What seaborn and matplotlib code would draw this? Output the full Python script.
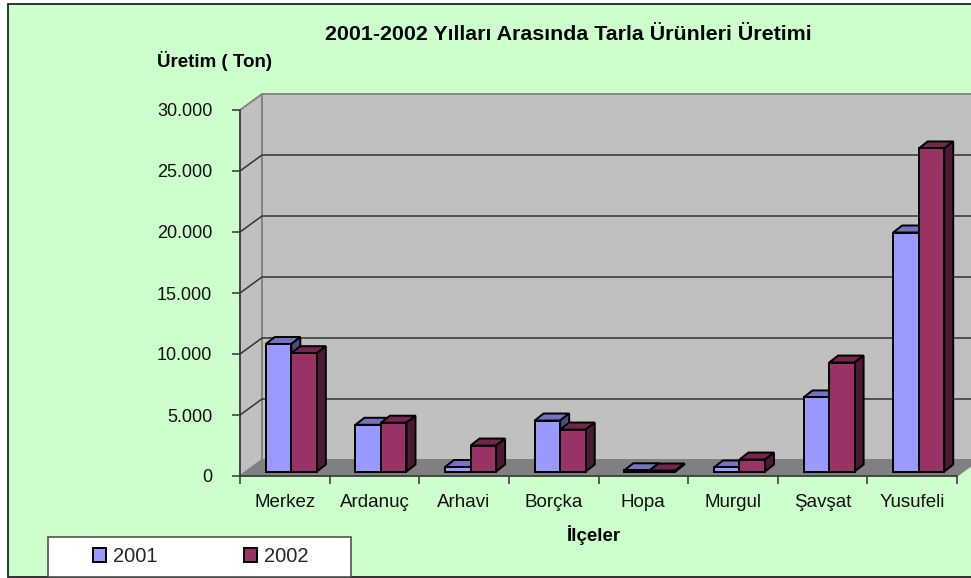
import matplotlib
matplotlib.use('Agg')
import matplotlib.pyplot as plt
from matplotlib.patches import Polygon, Rectangle
from matplotlib.lines import Line2D
from matplotlib.transforms import Affine2D
import pandas as pd
import seaborn as sns

ilceler = ['Merkez', 'Ardanuç', 'Arhavi', 'Borçka', 'Hopa', 'Murgul', 'Şavşat', 'Yusufeli']
uretim_2001 = [10450, 3830, 370, 4180, 100, 330, 6070, 19590]
uretim_2002 = [9700, 4000, 2130, 3440, 80, 980, 8930, 26480]
yticks = [0, 5000, 10000, 15000, 20000, 25000, 30000]

renk_2001 = ('#9999FF', '#7373BF', '#4D4D80')
renk_2002 = ('#993366', '#732650', '#4D1A33')

W, H = 971, 578
sns.set_theme(style='white')
plt.rcParams['font.family'] = ['Liberation Sans', 'DejaVu Sans']

df = pd.DataFrame({'ilce': ilceler * 2,
                   'yil': ['2001'] * 8 + ['2002'] * 8,
                   'ton': uretim_2001 + uretim_2002})

fig = plt.figure(figsize=(W / 100, H / 100), dpi=100, facecolor='white')
ax = fig.add_axes([240 / W, (H - 476) / H, 717 / W, 366 / H])
ax.patch.set_alpha(0)

# green chart area, open on the right like the original crop
fig.patches.append(Rectangle((8 / W, 1.5 / H), 1, (H - 5.5) / H, transform=fig.transFigure,
                             facecolor='#CCFFCC', edgecolor='#222222', linewidth=1.3, zorder=-10))

sns.barplot(data=df, x='ilce', y='ton', hue='yil', hue_order=['2001', '2002'],
            palette=[renk_2001[0], renk_2002[0]], width=0.57, gap=0, saturation=1,
            edgecolor='black', linewidth=1.4, ax=ax, zorder=5)
ax.set_xlim(-0.5, 7.5)
ax.set_ylim(0, 30000)

# pixel -> data helpers for the fake 3d depth
px_x = 8 / 717
px_y = 30000 / 366
wall_dx, wall_dy = 22 * px_x, 16 * px_y

# walls and floor
ax.add_patch(Polygon([(-0.5, 30000), (-0.5 + wall_dx, 30000 + wall_dy), (-0.5 + wall_dx, wall_dy), (-0.5, 0)],
                     facecolor='#C0C0C0', edgecolor='#808080', linewidth=1.3, clip_on=False, zorder=1))
ax.add_patch(Rectangle((-0.5 + wall_dx, wall_dy), 8.3, 30000, facecolor='#C0C0C0',
                       edgecolor='#808080', linewidth=1.3, clip_on=False, zorder=1))
ax.add_patch(Polygon([(-0.5, 0), (-0.5 + wall_dx, wall_dy), (7.5 + wall_dx, wall_dy), (7.5, 0)],
                     facecolor='#808080', edgecolor='#808080', linewidth=1, clip_on=False, zorder=1))

for v in yticks[1:-1]:
    ax.add_line(Line2D([-0.5, -0.5 + wall_dx, 7.8], [v, v + wall_dy, v + wall_dy],
                       color='#333333', linewidth=1.1, clip_on=False, zorder=2))

# bars: push front faces in from the front plane, add top and side faces
bar_dx, bar_dy = 9 * px_x, 7 * px_y
off_x, off_y = 6.5 * px_x, 4.5 * px_y

bars = [p for p in ax.patches if isinstance(p, Rectangle) and p.get_width() < 0.5 and p.get_zorder() == 5]
for i, bar in enumerate(sorted(bars, key=lambda b: b.get_x())):
    x0 = bar.get_x() + off_x
    x1 = x0 + bar.get_width()
    y1 = bar.get_height() + off_y
    y0 = off_y
    renkler = renk_2001 if matplotlib.colors.to_hex(bar.get_facecolor()).upper() == renk_2001[0] else renk_2002
    z = 5 + i
    ax.add_patch(Polygon([(x0, y1), (x0 + bar_dx, y1 + bar_dy), (x1 + bar_dx, y1 + bar_dy), (x1, y1)],
                         facecolor=renkler[1], edgecolor='black', linewidth=1.4, clip_on=False, zorder=z))
    ax.add_patch(Polygon([(x1, y1), (x1 + bar_dx, y1 + bar_dy), (x1 + bar_dx, y0 + bar_dy), (x1, y0)],
                         facecolor=renkler[2], edgecolor='black', linewidth=1.4, clip_on=False, zorder=z))
    bar.set_transform(Affine2D().translate(off_x, off_y) + ax.transData)
    bar.set_zorder(z + 0.5)
    bar.set_clip_on(False)

for s in ['top', 'right']:
    ax.spines[s].set_visible(False)
for s in ['left', 'bottom']:
    ax.spines[s].set_color('#333333')
    ax.spines[s].set_linewidth(1.1)
    ax.spines[s].set_zorder(3)

ax.set_yticks(yticks)
ax.set_yticklabels([f'{v:,}'.replace(',', '.') for v in yticks], fontsize=13, color='#111111')
ax.set_xticks([i - 0.5 for i in range(9)], minor=True)
ax.set_xticks(range(8))
ax.set_xticklabels(ilceler, fontsize=13.5, color='#111111')
ax.tick_params(axis='x', which='major', length=0, pad=13)
ax.tick_params(axis='x', which='minor', length=6, width=1.1, color='#333333', bottom=True)
ax.tick_params(axis='y', length=6, width=1.1, color='#333333', left=True, pad=14)

fig.suptitle('2001-2002 Yılları Arasında Tarla Ürünleri Üretimi', x=568 / W, y=1 - 35 / H,
             fontsize=15.4, fontweight='bold', va='center', color='black')
ax.set_ylabel('Üretim ( Ton)', rotation=0, fontsize=13.5, fontweight='bold', ha='left', va='center', color='black')
ax.yaxis.set_label_coords((157 - 240) / 717, (476 - 61) / 366)
ax.set_xlabel('İlçeler', fontsize=13.5, fontweight='bold', va='center', color='black')
ax.xaxis.set_label_coords((594 - 240) / 717, (476 - 535) / 366)

# legend box reaches down to the chart border
fig.patches.append(Rectangle((48 / W, 1.5 / H), 303 / W, 39.5 / H, transform=fig.transFigure,
                             facecolor='white', edgecolor='#444444', linewidth=1.1, zorder=-5))
h, l = ax.get_legend_handles_labels()
leg = ax.legend(h, l, ncol=2, loc='center left',
                bbox_to_anchor=(93 / W, 21.5 / H), bbox_transform=fig.transFigure,
                fontsize=14.5, frameon=False, columnspacing=4.3,
                handlelength=0.65, handleheight=0.65, handletextpad=0.35, borderaxespad=0, borderpad=0)
leg.set_zorder(30)

fig.savefig('out.png', dpi=100)
